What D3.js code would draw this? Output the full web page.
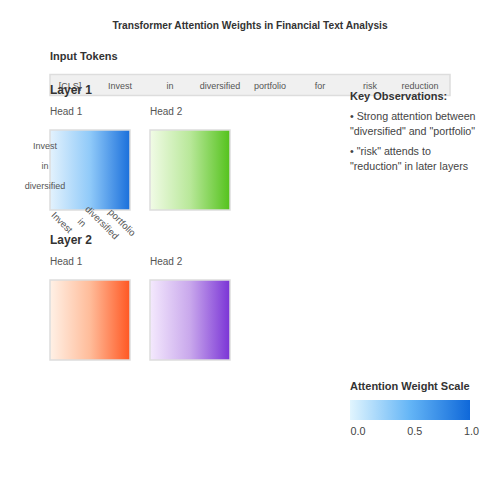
<!DOCTYPE html>
<html><head><meta charset="utf-8">
<script src="https://cdn.jsdelivr.net/npm/d3@7"></script>
<style>body{margin:0;background:#fff;font-family:"Liberation Sans",Arial,sans-serif;}</style>
</head><body>
<script>
const title = "Transformer Attention Weights in Financial Text Analysis";
const tokens = ["[CLS]","Invest","in","diversified","portfolio","for","risk","reduction"];
const layers = ["Layer 1","Layer 2"];
const heads = ["Head 1","Head 2"];
const rowLabels = ["Invest","in","diversified"];
const colLabels = ["Invest","in","diversified","portfolio"];
const headColors = [
  [["#e3f2fd","#90caf9","#1a6fdb"],["#f1fbe6","#b9e89a","#54c21c"]],
  [["#fff1e6","#ffbc9a","#ff5722"],["#f4e9fd","#c9a8ec","#7a34d6"]]
];
const observations = [["• Strong attention between","\"diversified\" and \"portfolio\""],["• \"risk\" attends to","\"reduction\" in later layers"]];
const scaleColors = ["#e1f5fe","#64b5f6","#0f68d9"];
const scaleTicks = [0.0,0.5,1.0];

const W=500,H=500;
const svg=d3.select("body").append("svg").attr("width",W).attr("height",H);
const defs=svg.append("defs");

svg.append("text").attr("x",250).attr("y",29).attr("text-anchor","middle")
  .attr("font-size",10.2).attr("font-weight","bold").attr("fill","#333").text(title);

svg.append("text").attr("x",50).attr("y",60).attr("font-size",11).attr("font-weight","bold").attr("fill","#333").text("Input Tokens");
svg.append("rect").attr("x",50).attr("y",74.5).attr("width",400).attr("height",21).attr("fill","#f0f0f0").attr("stroke","#ddd").attr("stroke-width",1.5);
const tx=d3.scalePoint().domain(tokens).range([70,420]);
svg.selectAll(".tok").data(tokens).join("text").attr("x",d=>tx(d)).attr("y",89)
  .attr("text-anchor","middle").attr("font-size",9).attr("fill","#555").text(d=>d);

const layerY=d3.scalePoint().domain(layers).range([92,242]);
const headX=d3.scalePoint().domain(heads).range([50,150]);
function grad(id,cols){
  const g=defs.append("linearGradient").attr("id",id).attr("x1","0%").attr("x2","100%").attr("y1","0%").attr("y2","0%");
  g.selectAll("stop").data(cols).join("stop").attr("offset",(d,i)=>(i/(cols.length-1)*100)+"%").attr("stop-color",d=>d);
}
layers.forEach((L,li)=>{
  const y0=layerY(L);
  svg.append("text").attr("x",50).attr("y",y0+2).attr("font-size",12).attr("font-weight","bold").attr("fill","#333").text(L);
  heads.forEach((h,hi)=>{
    const x0=headX(h);
    svg.append("text").attr("x",x0).attr("y",y0+23).attr("font-size",10).attr("fill","#555").text(h);
    const id="g"+li+hi;
    grad(id,headColors[li][hi]);
    svg.append("rect").attr("x",x0).attr("y",y0+38).attr("width",80).attr("height",80)
      .attr("fill","url(#"+id+")").attr("stroke","#ddd").attr("stroke-width",1.5);
    if(li===0&&hi===0){
      const ry=d3.scalePoint().domain(rowLabels).range([y0+55,y0+95]);
      svg.selectAll(".rl").data(rowLabels).join("text").attr("class","rl").attr("x",45).attr("y",d=>ry(d))
        .attr("text-anchor","middle").attr("dominant-baseline","middle").attr("font-size",9).attr("fill","#555").text(d=>d);
      const cx=d3.scaleBand().domain(colLabels).range([x0,x0+80]);
      svg.selectAll(".cl").data(colLabels).join("text").attr("class","cl")
        .attr("transform",d=>`translate(${cx(d)+cx.bandwidth()/2+1.5},${y0+131}) rotate(45)`)
        .attr("text-anchor","middle").attr("dominant-baseline","middle").attr("font-size",9.5).attr("fill","#555").text(d=>d);
    }
  });
});

svg.append("text").attr("x",350).attr("y",100).attr("font-size",11).attr("font-weight","bold").attr("fill","#333").text("Key Observations:");
const obsY=[120,155];
observations.forEach((lines,i)=>{
  lines.forEach((t,j)=>{
    svg.append("text").attr("x",350).attr("y",obsY[i]+j*14.5).attr("font-size",10.7).attr("fill","#444").text(t);
  });
});

svg.append("text").attr("x",350).attr("y",390).attr("font-size",11).attr("font-weight","bold").attr("fill","#333").text("Attention Weight Scale");
grad("scaleG",scaleColors);
svg.append("rect").attr("x",350).attr("y",400).attr("width",120).attr("height",20).attr("fill","url(#scaleG)");
const sx=d3.scaleLinear().domain([0,1]).range([350.5,464]);
svg.selectAll(".st").data(scaleTicks).join("text").attr("x",d=>sx(d)).attr("y",435)
  .attr("font-size",10.8).attr("fill","#444").text(d=>d.toFixed(1));
</script>
</body></html>
